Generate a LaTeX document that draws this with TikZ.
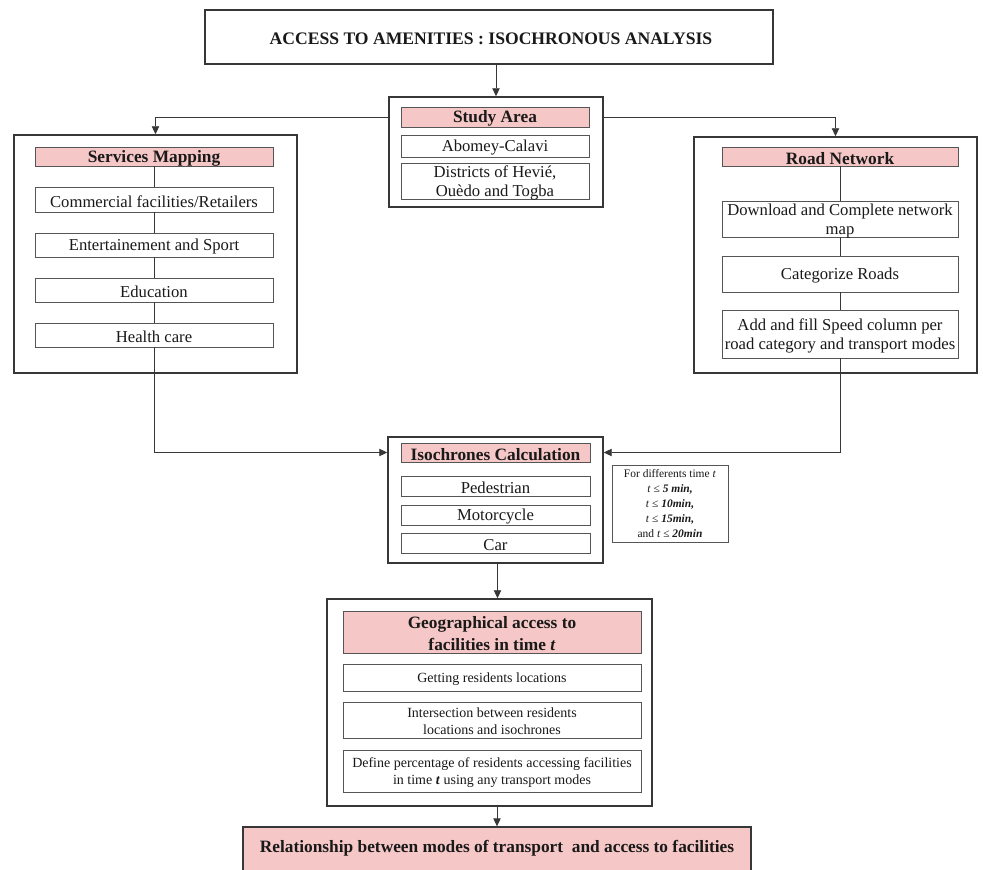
\documentclass[tikz,border=0pt]{standalone}
\usepackage{fontspec}
\setmainfont{Liberation Serif}
\usetikzlibrary{fit,arrows.meta}
\definecolor{pinkfill}{RGB}{246,199,199}
\definecolor{linec}{RGB}{55,55,55}
\definecolor{innerc}{RGB}{85,85,85}
\tikzset{
  outerbox/.style={draw=linec, line width=1.1pt, inner sep=0pt},
  innerbox/.style={draw=innerc, line width=0.7pt, inner sep=0pt},
  headbox/.style={innerbox, fill=pinkfill},
  txt/.style={font=\fontsize{12.5}{14}\selectfont, align=center, text=black!90, yshift=-1.3pt},
  htxt/.style={font=\bfseries\fontsize{13}{14.5}\selectfont, align=center, text=black!90, yshift=-1.3pt},
  gtxt/.style={font=\fontsize{10.5}{12.5}\selectfont, align=center, text=black!90, yshift=-1pt},
  ntxt/.style={font=\fontsize{8.6}{11.4}\selectfont, align=center, text=black!90},
  conn/.style={draw=linec, line width=0.7pt},
  arr/.style={conn, -{Triangle[length=6pt,width=5.5pt]}},
}
\begin{document}
\begin{tikzpicture}[x=0.75pt,y=-0.75pt]
\useasboundingbox (0,0) rectangle (983,870);
\fill[white] (0,0) rectangle (983,870);

% title
\node[outerbox, fit={(205,10) (773,64)}] (title) {};
\node[htxt, font=\bfseries\fontsize{13.2}{15}\selectfont] (titletext) at (491,37) {ACCESS TO AMENITIES : ISOCHRONOUS ANALYSIS};

% study area
\node[outerbox, fit={(389,97) (603,207)}] (study) {};
\node[headbox, fit={(401,107) (589,127)}] (sahead) {};
\node[htxt] at (sahead.center) {Study Area};
\node[innerbox, fit={(401,135) (589,157)}] (sa1) {};
\node[txt] at (sa1.center) {Abomey-Calavi};
\node[innerbox, fit={(401,163) (589,199)}] (sa2) {};
\node[txt] at (sa2.center) {Districts of Hevié,\\Ouèdo and Togba};

% services mapping
\node[outerbox, fit={(14,135) (297,373)}] (serv) {};
\node[headbox, fit={(35,147) (273,166)}] (smhead) {};
\node[htxt] at (smhead.center) {Services Mapping};
\node[innerbox, fit={(35,187) (273,212)}] (s1) {};
\node[txt] at (s1.center) {Commercial facilities/Retailers};
\node[innerbox, fit={(35,233) (273,257)}] (s2) {};
\node[txt] at (s2.center) {Entertainement and Sport};
\node[innerbox, fit={(35,278) (273,302)}] (s3) {};
\node[txt] at (s3.center) {Education};
\node[innerbox, fit={(35,323) (273,347)}] (s4) {};
\node[txt] at (s4.center) {Health care};

% road network
\node[outerbox, fit={(694,137) (977,373)}] (road) {};
\node[headbox, fit={(722,147) (958,166)}] (rnhead) {};
\node[htxt] at (rnhead.center) {Road Network};
\node[innerbox, fit={(722,201) (958,237)}] (r1) {};
\node[txt] at (r1.center) {Download and Complete network\\map};
\node[innerbox, fit={(722,256) (958,292)}] (r2) {};
\node[txt] at (r2.center) {Categorize Roads};
\node[innerbox, fit={(722,310) (958,358)}] (r3) {};
\node[txt] at (r3.center) {Add and fill Speed column per\\road category and transport modes};

% isochrones
\node[outerbox, fit={(388,437) (603,563)}] (iso) {};
\node[headbox, fit={(401,443) (590,462)}] (isohead) {};
\node[htxt] at (isohead.center) {Isochrones Calculation};
\node[innerbox, fit={(401,476) (590,496)}] (i1) {};
\node[txt] at (i1.center) {Pedestrian};
\node[innerbox, fit={(401,505) (590,525)}] (i2) {};
\node[txt] at (i2.center) {Motorcycle};
\node[innerbox, fit={(401,533) (590,553)}] (i3) {};
\node[txt] at (i3.center) {Car};

% note
\node[innerbox, fit={(612,465) (728,542)}] (note) {};
\node[ntxt] at (note.center)
  {For differents time \textit{t}\\
   \textit{t} ≤ \textbf{\textit{5 min,}}\\
   \textit{t} ≤ \textbf{\textit{10min,}}\\
   \textit{t} ≤ \textbf{\textit{15min,}}\\
   and \textit{t} ≤ \textbf{\textit{20min}}};

% geographical access
\node[outerbox, fit={(327,599) (652,806)}] (geo) {};
\node[headbox, fit={(343,611) (641,653)}] (geohead) {};
\node[htxt, font=\bfseries\fontsize{13}{16}\selectfont] at (geohead.center) {Geographical access to\\facilities in time \textit{t}};
\node[innerbox, fit={(343,664) (641,691)}] (g1) {};
\node[gtxt] at (g1.center) {Getting residents locations};
\node[innerbox, fit={(343,702) (641,738)}] (g2) {};
\node[gtxt] at (g2.center) {Intersection between residents\\locations and isochrones};
\node[innerbox, fit={(343,750) (641,792)}] (g3) {};
\node[gtxt] at (g3.center) {Define percentage of residents accessing facilities\\in time \textbf{\textit{t}} using any transport modes};

% final
\node[draw=linec, line width=1pt, fill=pinkfill, inner sep=0pt, fit={(243,827) (751,872)}] (final) {};
\node[htxt] at (497,847) {Relationship between modes of transport\ \ and access to facilities};

% connectors
\draw[arr] (study.north |- title.south) -- (study.north);
\draw[arr] (study.west |- sahead.west) -| (serv.north);
\draw[arr] (study.east |- sahead.east) -| (road.north);

\draw[conn] (smhead.south) -- (s1.north) (s1.south) -- (s2.north) (s2.south) -- (s3.north) (s3.south) -- (s4.north);
\draw[arr] (s4.south) |- (iso.west |- isohead.west);

\draw[conn] (rnhead.south) -- (r1.north) (r1.south) -- (r2.north) (r2.south) -- (r3.north);
\draw[arr] (r3.south) |- (iso.east |- isohead.east);

\draw[arr] ([xshift=1.5pt]iso.south) -- ([xshift=1.5pt]iso.south |- geo.north);
\draw[arr] (final.north |- geo.south) -- (final.north);
\end{tikzpicture}
\end{document}
